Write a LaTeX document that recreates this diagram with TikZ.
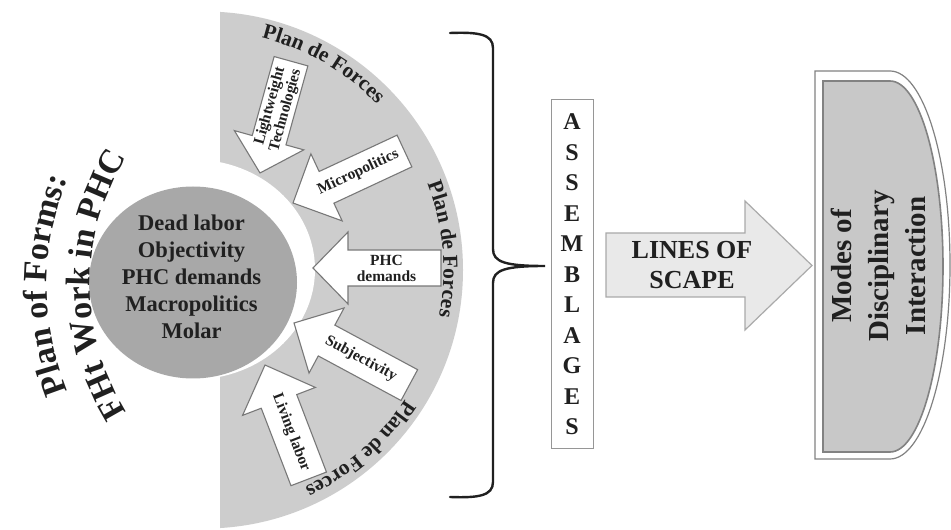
\documentclass[tikz,border=0pt]{standalone}
\usepackage{fontspec}
\setmainfont{Liberation Serif}
\usetikzlibrary{decorations.text}
\definecolor{sectorgray}{RGB}{205,205,205}
\definecolor{circgray}{RGB}{168,168,168}
\definecolor{inkc}{RGB}{32,32,32}
\definecolor{arrowedge}{RGB}{120,120,120}
\definecolor{scapefill}{RGB}{233,233,233}
\definecolor{scapeedge}{RGB}{170,170,170}
\definecolor{modesfill}{RGB}{200,200,200}
\definecolor{modesedge}{RGB}{130,130,130}
\definecolor{assedge}{RGB}{150,150,150}
\tikzset{
  forcebox/.style={fill=white, draw=arrowedge, line width=1.1pt, line join=miter},
  forcetext/.style={font=\fontsize{15.5}{16}\selectfont\bfseries, text=inkc, align=center, inner sep=0pt},
  bracestyle/.style={draw=inkc, line width=2.4pt, line cap=round},
}
% #1 name, #2/#3 tip, #4 direction, #5 total length, #6 head length, #7 head width, #8 body width, #9 text
\newcommand\forcearrow[9]{%
  \pgfmathsetmacro\fangle{#4-180}%
  \begin{scope}[shift={(#2,#3)}, rotate=#4]
    \draw[forcebox] (0,0) -- (-#6,#7/2) -- (-#6,#8/2) -- (-#5,#8/2) -- (-#5,-#8/2) -- (-#6,-#8/2) -- (-#6,-#7/2) -- cycle;
    \node[forcetext, rotate=\fangle] (#1) at ({-(#5+#6)/2+8},0) {#9};
  \end{scope}}
\newcommand\planfont{\fontsize{21.5}{21.5}\selectfont\bfseries}
\newcommand\titlefont{\fontsize{34}{34}\selectfont\bfseries}
\begin{document}
\begin{tikzpicture}[x=1pt,y=1pt]
\useasboundingbox (0,0) rectangle (951,530);
\fill[white] (0,0) rectangle (951,530);
% big sector
\begin{scope}
  \clip (220,0) rectangle (500,530);
  \fill[sectorgray] (204.5,260) circle (258.5);
\end{scope}
\fill[white] (193,260.5) ellipse [x radius=122, y radius=110];
\fill[circgray] (193,247.5) ellipse [x radius=104, y radius=96];
\node[font=\fontsize{22.5}{27}\selectfont\bfseries, text=inkc, align=center, inner sep=0pt] (core) at (191.5,253)
  {Dead labor\\Objectivity\\PHC demands\\Macropolitics\\Molar};
% Plan de Forces labels
\path[decorate, decoration={text along path, text align=center, text color=inkc, text={|\planfont|Plan de Forces}}]
  (204.5,260) ++(80:239) arc[start angle=80, end angle=40, radius=239];
\path[decorate, decoration={text along path, text align=center, text color=inkc, text={|\planfont|Plan de Forces}}]
  (204.5,260) ++(25:239) arc[start angle=25, end angle=-15, radius=239];
\path[decorate, decoration={text along path, text align=center, text color=inkc, text={|\planfont|Plan de Forces}}]
  (204.5,260) ++(-29:239) arc[start angle=-29, end angle=-69, radius=239];
% titles (arcs round a common centre to their right)
\coordinate (titleC) at (331,245);
\path[decorate, decoration={text along path, text align=center, text color=inkc, text={|\titlefont|Plan of Forms:}}]
  (titleC) ++(205:284) arc[start angle=205, end angle=155, radius=284];
\path[decorate, decoration={text along path, text align=center, text color=inkc, text={|\titlefont|FHt Work in PHC}}]
  (titleC) ++(216:241) arc[start angle=216, end angle=144, radius=241];
% force arrows
\forcearrow{light}{260}{357}{254.5}{116}{34}{72}{35}{Lightweight\\Technologies}
\forcearrow{micro}{293}{327}{205}{123}{37}{74}{35}{Micropolitics}
\forcearrow{phc}{313}{262}{180}{128}{35}{72}{36}{PHC\\demands}
\forcearrow{subj}{294}{207}{151.7}{131}{37}{74}{35}{Subjectivity}
\forcearrow{living}{265}{165}{111}{122}{39}{78}{38}{Living labor}
% brace
\coordinate (braceTop) at (450,497);
\coordinate (braceTip) at (545,264);
\coordinate (braceBot) at (450,33);
\draw[bracestyle] (braceTop) .. controls (478,498) and (493,496) .. (493,482) -- (493,281)
  .. controls (493,268) and (505,264) .. (braceTip)
  .. controls (505,264) and (493,260) .. (493,247) -- (493,48)
  .. controls (493,34) and (478,32) .. (braceBot);
% assemblages
\node[draw=assedge, line width=1pt, fill=white, minimum width=42pt, minimum height=349pt, inner sep=0pt,
  font=\fontsize{24}{30.5}\selectfont\bfseries, text=inkc, align=center] (assem) at (572,255.5)
  {A\\S\\S\\E\\M\\B\\L\\A\\G\\E\\S};
% lines of scape arrow
\draw[fill=scapefill, draw=scapeedge, line width=1.2pt, line join=miter]
  (606,233) -- (745,233) -- (745,200) -- (812,264.5) -- (745,329) -- (745,297) -- (606,297) -- cycle;
\node[font=\fontsize{26}{30}\selectfont\bfseries, text=inkc, align=center, inner sep=0pt] (scape) at (692,265)
  {LINES OF\\SCAPE};
% modes box
\draw[fill=white, draw=modesedge, line width=1.2pt] (815,71) -- (815,459) -- (890,459)
  arc[start angle=90, end angle=-90, x radius=60, y radius=194] -- cycle;
\draw[fill=modesfill, draw=modesedge, line width=1.6pt] (823,78) -- (823,449) -- (890,449)
  arc[start angle=90, end angle=-90, x radius=53, y radius=185.5] -- cycle;
\node[font=\fontsize{29}{37}\selectfont\bfseries, text=inkc, align=center, inner sep=0pt, rotate=90] (modes) at (878,264)
  {Modes of\\Disciplinary\\Interaction};
\end{tikzpicture}
\end{document}
